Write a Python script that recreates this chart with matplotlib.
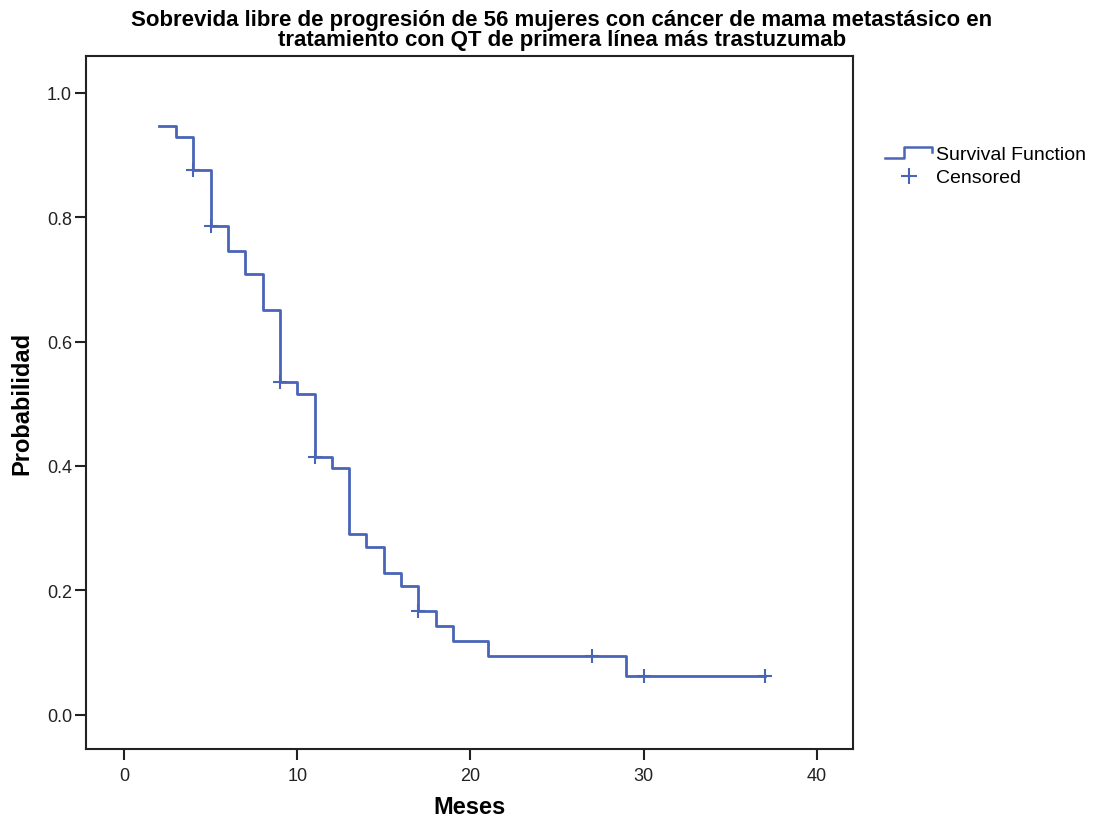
import matplotlib
matplotlib.use("Agg")
import matplotlib.pyplot as plt
from matplotlib.lines import Line2D
from matplotlib.legend_handler import HandlerBase

plt.rcParams['font.family'] = ['Liberation Sans', 'DejaVu Sans']

# Step survival function (time in months, probability after the step)
times = [2, 3, 4, 5, 6, 7, 8, 9, 10, 11, 12, 13, 14, 15, 16, 17, 18, 19, 21, 29, 37]
surv = [0.947, 0.929, 0.876, 0.785, 0.746, 0.709, 0.650, 0.535, 0.516, 0.415,
        0.396, 0.291, 0.270, 0.228, 0.207, 0.166, 0.143, 0.119, 0.095, 0.063, 0.063]

# Censored observations
cens_t = [4, 5, 9, 11, 17, 27, 30, 37]
cens_s = [0.876, 0.785, 0.535, 0.415, 0.166, 0.095, 0.063, 0.063]

xticks = [0, 10, 20, 30, 40]
yticks = [0.0, 0.2, 0.4, 0.6, 0.8, 1.0]

color = '#4a64b8'

fig = plt.figure(figsize=(10.97, 8.2), dpi=100)
ax = fig.add_axes([0.0784, 0.0854, 0.6992, 0.8451])

ax.step(times, surv, where='post', color=color, lw=2)
ax.plot(cens_t, cens_s, linestyle='none', marker='+', markersize=10,
        markeredgewidth=1.5, color=color)

ax.set_xlim(-2.2, 42.1)
ax.set_ylim(-0.055, 1.059)
ax.set_xticks(xticks)
ax.set_yticks(yticks)
ax.set_xticklabels([str(t) for t in xticks])
ax.set_yticklabels([f"{t:.1f}" for t in yticks])
ax.tick_params(direction='out', length=8, width=1.5, labelsize=13, colors='#222222', pad=2)
ax.tick_params(axis='x', pad=5)
for s in ax.spines.values():
    s.set_linewidth(1.5)
    s.set_color('#222222')

ax.set_xlabel('Meses', fontsize=17, fontweight='bold', labelpad=8)
ax.set_ylabel('Probabilidad', fontsize=17, fontweight='bold', labelpad=10)

fig.text(0.512, 0.988, 'Sobrevida libre de progresión de 56 mujeres con cáncer de mama metastásico en\n'
         'tratamiento con QT de primera línea más trastuzumab',
         ha='center', va='top', fontsize=16, fontweight='bold', linespacing=0.95)


class StepHandler(HandlerBase):
    def create_artists(self, legend, orig_handle, xdescent, ydescent, width, height, fontsize, trans):
        x0, x1 = -xdescent, -xdescent + width
        ylo, yhi = -ydescent + height * 0.1, -ydescent + height * 0.85
        xm = x0 + width * 0.4
        xs = [x0, xm, xm, x1, x1]
        ys = [ylo, ylo, yhi, yhi, yhi - height * 0.35]
        l = Line2D(xs, ys, color=color, lw=1.8, transform=trans)
        return [l]


step_handle = Line2D([], [], color=color)
cens_handle = Line2D([], [], linestyle='none', marker='+', markersize=12,
                     markeredgewidth=1.5, color=color)
leg = fig.legend([step_handle, cens_handle], ['Survival Function', 'Censored'],
                 handler_map={step_handle: StepHandler()},
                 loc='upper left', bbox_to_anchor=(0.800, 0.831), frameon=False,
                 fontsize=14, handlelength=2.4, handletextpad=0.2, labelspacing=0.3,
                 borderaxespad=0)

fig.savefig('out.png', dpi=100)
